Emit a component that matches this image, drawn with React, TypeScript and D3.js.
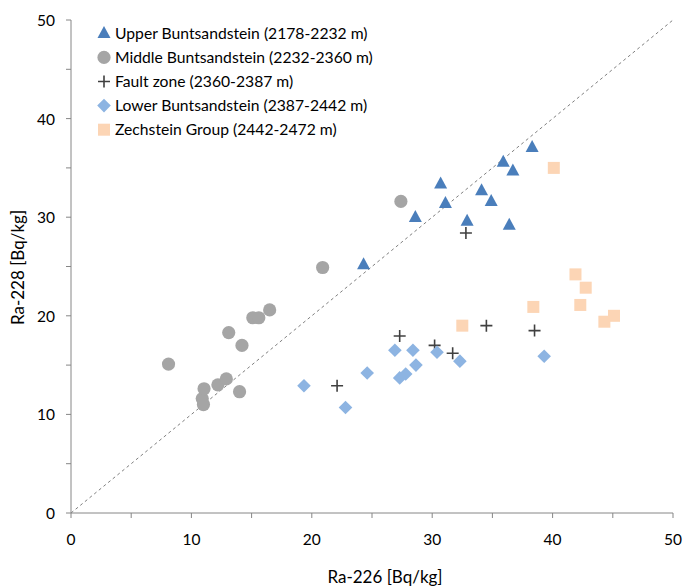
import React from "react";
import * as d3 from "d3";

// Ra-226 vs Ra-228 activity per stratigraphic unit, [x = Ra-226, y = Ra-228]
const upperBunt: [number, number][] = [
  [24.3, 25.2], [28.6, 30.0], [30.7, 33.4], [31.1, 31.4], [32.9, 29.6],
  [34.1, 32.7], [34.9, 31.6], [35.9, 35.6], [36.7, 34.7], [36.4, 29.2],
  [38.3, 37.1],
];
const middleBunt: [number, number][] = [
  [8.1, 15.1], [10.9, 11.6], [11.0, 11.0], [11.05, 12.6], [12.2, 13.0],
  [12.9, 13.6], [13.1, 18.3], [14.0, 12.3], [14.2, 17.0], [15.1, 19.8],
  [15.6, 19.8], [16.5, 20.6], [20.9, 24.9], [27.4, 31.6],
];
const faultZone: [number, number][] = [
  [22.1, 12.9], [27.3, 17.95], [30.2, 17.0], [31.7, 16.2], [32.8, 28.4],
  [34.5, 19.0], [38.5, 18.5],
];
const lowerBunt: [number, number][] = [
  [19.35, 12.9], [22.8, 10.7], [24.6, 14.2], [26.9, 16.5], [27.3, 13.7],
  [27.8, 14.1], [28.4, 16.5], [28.65, 15.0], [30.4, 16.3], [32.3, 15.4],
  [39.3, 15.9],
];
const zechstein: [number, number][] = [
  [32.5, 19.0], [38.4, 20.9], [40.1, 35.0], [41.9, 24.2], [42.3, 21.1],
  [42.75, 22.85], [44.3, 19.4], [45.1, 20.0],
];

const seriesNames = [
  "Upper Buntsandstein (2178-2232 m)",
  "Middle Buntsandstein (2232-2360 m)",
  "Fault zone (2360-2387 m)",
  "Lower Buntsandstein (2387-2442 m)",
  "Zechstein Group (2442-2472 m)",
];
const axisTicks = [0, 10, 20, 30, 40, 50];
const minorTicks = d3.range(0, 51, 5);

const W = 684;
const H = 587;
const FONT = "Lato, 'Open Sans', sans-serif";
const AXIS = "#868686";

type Kind = "triangle" | "circle" | "cross" | "diamond" | "square";

const series: { name: string; data: [number, number][]; kind: Kind; color: string }[] = [
  { name: seriesNames[0], data: upperBunt, kind: "triangle", color: "#4A7EBB" },
  { name: seriesNames[1], data: middleBunt, kind: "circle", color: "#A5A5A5" },
  { name: seriesNames[2], data: faultZone, kind: "cross", color: "#404040" },
  { name: seriesNames[3], data: lowerBunt, kind: "diamond", color: "#8DB4E2" },
  { name: seriesNames[4], data: zechstein, kind: "square", color: "#FCD5B5" },
];

function Marker({ kind, color, x, y }: { kind: Kind; color: string; x: number; y: number }) {
  switch (kind) {
    case "triangle":
      return <path d={`M${x},${y - 7.3}L${x + 6.5},${y + 4.7}L${x - 6.5},${y + 4.7}Z`} fill={color} />;
    case "circle":
      return <circle cx={x} cy={y} r={6.6} fill={color} />;
    case "cross":
      return (
        <path
          d={`M${x - 6},${y}H${x + 6}M${x},${y - 6}V${y + 6}`}
          stroke={color}
          strokeWidth={1.6}
          fill="none"
        />
      );
    case "diamond":
      return <path d={`M${x},${y - 6.8}L${x + 6.8},${y}L${x},${y + 6.8}L${x - 6.8},${y}Z`} fill={color} />;
    case "square":
      return <rect x={x - 6} y={y - 6} width={12} height={12} fill={color} />;
  }
}

export default function App() {
  const x = d3.scaleLinear().domain([0, 50]).range([71, 673]);
  const y = d3.scaleLinear().domain([0, 50]).range([513, 20]);

  return (
    <svg width={W} height={H} style={{ display: "block", position: "absolute", left: 0, top: 0 }}>
      <rect width={W} height={H} fill="#fff" />

      {/* 1:1 reference line */}
      <line
        x1={x(0)}
        y1={y(0)}
        x2={x(50)}
        y2={y(50)}
        stroke="#7f7f7f"
        strokeWidth={1}
        strokeDasharray="3,3"
      />

      {/* axes */}
      <line x1={x(0)} y1={y(0)} x2={x(50)} y2={y(0)} stroke={AXIS} strokeWidth={1} />
      <line x1={x(0)} y1={y(0)} x2={x(0)} y2={y(50)} stroke={AXIS} strokeWidth={1} />
      {minorTicks.map((t) => (
        <g key={`t${t}`}>
          <line x1={x(t)} x2={x(t)} y1={y(0)} y2={y(0) + 5} stroke={AXIS} />
          <line x1={x(0) - 5} x2={x(0)} y1={y(t)} y2={y(t)} stroke={AXIS} />
        </g>
      ))}
      {axisTicks.map((t) => (
        <g key={`l${t}`} fontFamily={FONT} fontSize={15.5} fill="#000">
          <text x={x(t)} y={y(0) + 32} textAnchor="middle">{t}</text>
          <text x={x(0) - 16} y={y(t) + 6} textAnchor="end">{t}</text>
        </g>
      ))}

      {/* axis titles */}
      <text x={385} y={583} textAnchor="middle" fontFamily={FONT} fontSize={17}>
        Ra-226 [Bq/kg]
      </text>
      <text
        transform={`translate(23.5,267.5) rotate(-90)`}
        textAnchor="middle"
        fontFamily={FONT}
        fontSize={17}
      >
        Ra-228 [Bq/kg]
      </text>

      {/* data points */}
      {series.map((s) => (
        <g key={s.name}>
          {s.data.map((d, i) => (
            <Marker key={i} kind={s.kind} color={s.color} x={x(d[0])} y={y(d[1])} />
          ))}
        </g>
      ))}

      {/* legend */}
      {series.map((s, i) => (
        <g key={`lg${i}`}>
          <Marker kind={s.kind} color={s.color} x={104} y={33.3 + i * 24.1} />
          <text x={115} y={33.3 + i * 24.1 + 5.6} fontFamily={FONT} fontSize={15.7} fill="#000">
            {s.name}
          </text>
        </g>
      ))}
    </svg>
  );
}
